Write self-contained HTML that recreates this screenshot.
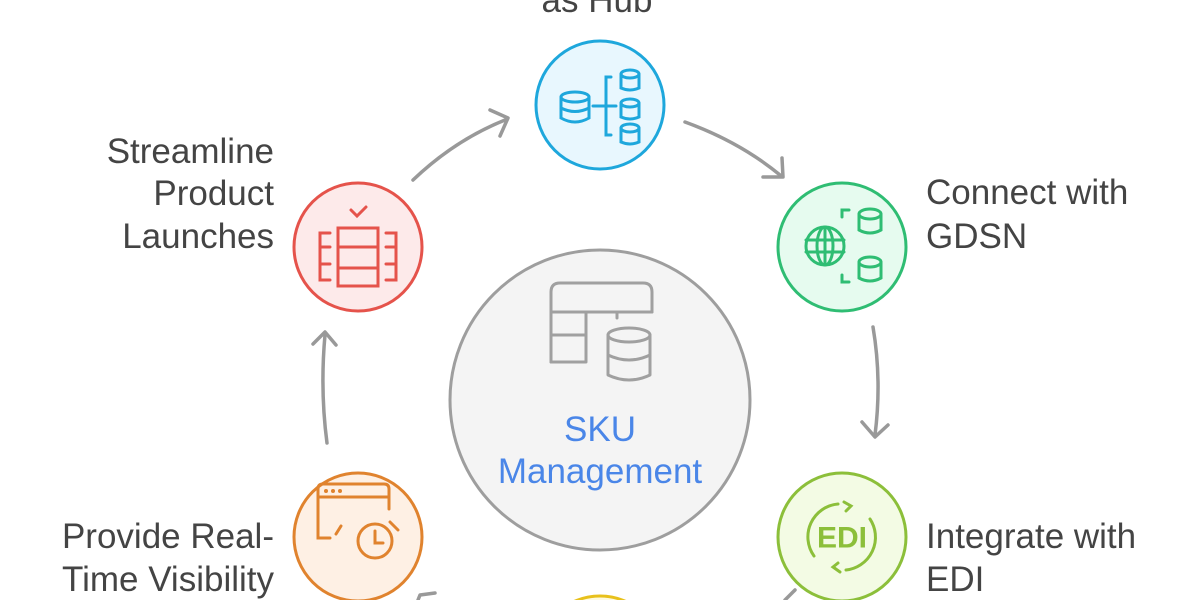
<!DOCTYPE html>
<html><head><meta charset="utf-8"><style>
html,body{margin:0;padding:0;background:#fff;width:1200px;height:600px;overflow:hidden}
svg{display:block;overflow:hidden}
text{font-family:"Liberation Sans",Arial,sans-serif}
</style></head><body>
<svg width="1200" height="600" viewBox="0 0 1200 600" xmlns="http://www.w3.org/2000/svg">
<g fill="none" stroke="#999" stroke-width="3.5" stroke-linecap="round" stroke-linejoin="round">
 <path d="M413 180 Q455 140 505 120"/><path d="M490 110 L508 118 L500 136"/>
 <path d="M685 122 Q740 142 780 175"/><path d="M763 177 L783 177 L782 158"/>
 <path d="M873 327 Q882 380 875 435"/><path d="M862 422 L875 437 L888 425"/>
 <path d="M327 443 Q320 390 325 335"/><path d="M313 344 L325 332 L336 345"/>
 <path d="M795 590 L785 600"/>
 <path d="M435 593 L420 595 L418 600"/>
</g>
<circle cx="600" cy="400" r="150" fill="#f4f4f4" stroke="#9e9e9e" stroke-width="3"/>
<g fill="none" stroke="#a0a0a0" stroke-width="3" stroke-linecap="round" stroke-linejoin="round">
 <path d="M551 362 V292 Q551 283 560 283 H643 Q652 283 652 292 V312"/>
 <path d="M551 312 H652 M551 335 H586 M586 312 V362 M551 362 H586 M617 312 V318"/>
 <ellipse cx="629" cy="335" rx="21" ry="7"/>
 <path d="M608 335 V375 Q629 385 650 375 V335 M608 355 Q629 365 650 355"/>
</g>
<text x="600" y="441" text-anchor="middle" font-size="35" fill="#4a86e8">SKU</text>
<text x="600" y="483" text-anchor="middle" font-size="35" fill="#4a86e8">Management</text>

<circle cx="600" cy="105" r="64" fill="#e8f7fe" stroke="#1ea7dc" stroke-width="3"/>
<g fill="none" stroke="#1ea7dc" stroke-width="3" stroke-linecap="round">
 <ellipse cx="575" cy="97" rx="14" ry="5"/><path d="M561 97 V118 Q575 126 589 118 V97 M561 108 Q575 115 589 108"/>
 <path d="M593 106 H616 M611 77 H606 V135 H611"/>
 <ellipse cx="630" cy="74" rx="9" ry="4"/><path d="M621 74 V88 Q630 92 639 88 V74"/>
 <ellipse cx="630" cy="103" rx="9" ry="4"/><path d="M621 103 V117 Q630 121 639 117 V103"/>
 <ellipse cx="630" cy="128" rx="9" ry="4"/><path d="M621 128 V142 Q630 146 639 142 V128"/>
</g>

<circle cx="842" cy="247" r="64" fill="#e6fbef" stroke="#2fbd73" stroke-width="3"/>
<g fill="none" stroke="#2fbd73" stroke-width="3" stroke-linecap="round">
 <circle cx="825" cy="246" r="19"/><ellipse cx="825" cy="246" rx="8" ry="19"/><path d="M806 240 H844 M806 252 H844 M825 227 V265"/>
 <path d="M842 217 V210 H849 M842 275 V282 H849"/>
 <ellipse cx="870" cy="214" rx="11" ry="5"/><path d="M859 214 V230 Q870 236 881 230 V214"/>
 <ellipse cx="870" cy="262" rx="11" ry="5"/><path d="M859 262 V278 Q870 284 881 278 V262"/>
</g>

<circle cx="358" cy="247" r="64" fill="#fdeaea" stroke="#e5534b" stroke-width="3"/>
<g fill="none" stroke="#e5534b" stroke-width="3" stroke-linecap="round">
 <path d="M351 210 L357 216 L366 207"/>
 <rect x="338" y="228" width="40" height="58"/><path d="M338 247 H378 M338 268 H378"/>
 <path d="M330 233 H320 V280 H330 M320 247 H330 M320 264 H330"/>
 <path d="M386 233 H396 V280 H386 M396 247 H386 M396 264 H386"/>
</g>

<circle cx="358" cy="537" r="64" fill="#fef0e4" stroke="#e0832e" stroke-width="3"/>
<g fill="none" stroke="#e0832e" stroke-width="3" stroke-linecap="round">
 <path d="M330 538 H318 V489 Q318 484 323 484 H384 Q389 484 389 489 V509 M318 497 H389"/>
 <circle cx="375" cy="541" r="17"/><path d="M375 531 V543 H383 M341 526 L336 534 M390 522 L398 530"/>
</g>
<g fill="#e0832e"><circle cx="326" cy="491" r="2"/><circle cx="333" cy="491" r="2"/><circle cx="340" cy="491" r="2"/></g>

<circle cx="842" cy="537" r="64" fill="#f3fbe4" stroke="#8cbf3a" stroke-width="3"/>
<g fill="none" stroke="#8cbf3a" stroke-width="3" stroke-linecap="round">
 <path d="M814 556 A33 33 0 0 1 838 504 M844 502 L851 506 L846 511"/>
 <path d="M870 519 A33 33 0 0 1 846 570 M840 572 L833 567 L838 563"/>
</g>
<text x="842" y="538" text-anchor="middle" dominant-baseline="central" font-size="30" font-weight="bold" fill="#8cbf3a" font-family="Liberation Mono,monospace">EDI</text>

<circle cx="600" cy="660" r="64" fill="#fffbe0" stroke="#e8c11c" stroke-width="3"/>

<g font-size="35" fill="#444">
 <text x="597" y="12" text-anchor="middle">as Hub</text>
 <text x="274" y="163" text-anchor="end">Streamline</text>
 <text x="274" y="205" text-anchor="end">Product</text>
 <text x="274" y="248" text-anchor="end">Launches</text>
 <text x="274" y="548" text-anchor="end">Provide Real-</text>
 <text x="274" y="591" text-anchor="end">Time Visibility</text>
 <text x="926" y="204">Connect with</text>
 <text x="926" y="248">GDSN</text>
 <text x="926" y="548">Integrate with</text>
 <text x="926" y="591">EDI</text>
</g>
</svg>
</body></html>
